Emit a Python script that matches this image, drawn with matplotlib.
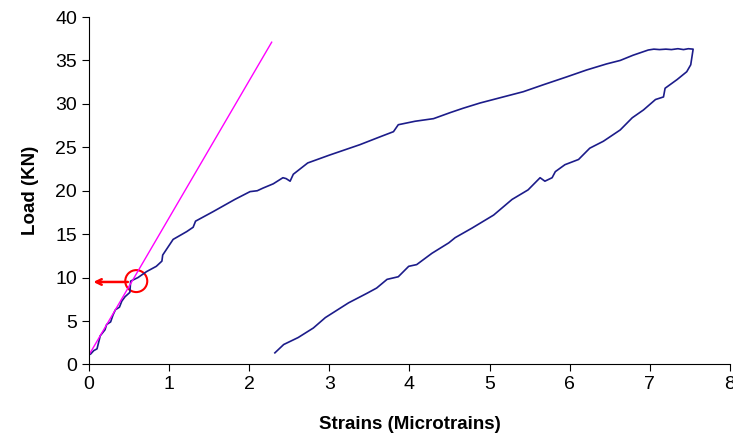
import matplotlib
matplotlib.use("Agg")
import matplotlib.pyplot as plt
from matplotlib.patches import Ellipse

plt.rcParams['font.family'] = ['Liberation Sans', 'DejaVu Sans']

# loading branch (strain, load)
load_x = [0.02, 0.06, 0.1, 0.13, 0.14, 0.2, 0.22, 0.27, 0.3, 0.33, 0.38, 0.41, 0.45,
          0.51, 0.52, 0.61, 0.72, 0.84, 0.91, 0.92, 1.05, 1.22, 1.3, 1.33, 1.55,
          1.82, 2.01, 2.1, 2.17, 2.3, 2.42, 2.46, 2.51, 2.55, 2.73, 3.0, 3.38,
          3.63, 3.8, 3.86, 4.07, 4.3, 4.51, 4.67, 4.88, 5.17, 5.42, 5.67, 5.96,
          6.21, 6.46, 6.63, 6.79, 6.98, 7.05, 7.12, 7.2, 7.27, 7.35, 7.42, 7.48, 7.54]
load_y = [1.2, 1.6, 1.8, 2.9, 3.3, 4.0, 4.6, 4.9, 5.7, 6.3, 6.6, 7.3, 7.8,
          8.3, 9.6, 10.0, 10.7, 11.3, 11.9, 12.6, 14.4, 15.3, 15.8, 16.5, 17.6,
          19.0, 19.9, 20.0, 20.3, 20.8, 21.5, 21.4, 21.1, 21.9, 23.2, 24.1, 25.3,
          26.2, 26.8, 27.6, 28.0, 28.3, 29.0, 29.5, 30.1, 30.8, 31.4, 32.2, 33.1,
          33.9, 34.6, 35.0, 35.6, 36.2, 36.3, 36.25, 36.3, 36.25, 36.35, 36.25, 36.35, 36.3]

# unloading branch
unload_x = [7.54, 7.51, 7.46, 7.34, 7.19, 7.17, 7.07, 6.92, 6.78, 6.63, 6.42, 6.25,
            6.11, 5.94, 5.82, 5.78, 5.69, 5.63, 5.48, 5.28, 5.05, 4.78, 4.57, 4.49,
            4.28, 4.09, 3.99, 3.86, 3.72, 3.59, 3.47, 3.24, 2.95, 2.8, 2.61, 2.43,
            2.32]
unload_y = [36.3, 34.5, 33.7, 32.8, 31.8, 30.8, 30.5, 29.3, 28.4, 27.0, 25.7, 24.9,
            23.6, 23.0, 22.2, 21.5, 21.1, 21.5, 20.1, 19.0, 17.2, 15.7, 14.6, 14.0,
            12.8, 11.5, 11.3, 10.1, 9.8, 8.8, 8.2, 7.1, 5.4, 4.2, 3.1, 2.3,
            1.34]

# initial stiffness line
fit_x = [0.0, 2.28]
fit_y = [1.1, 37.1]

yield_pt = (0.59, 9.6)

fig = plt.figure(figsize=(7.33, 4.36), dpi=100)
ax = fig.add_axes([0.1214, 0.164, 0.8745, 0.797])

ax.plot(load_x + unload_x, load_y + unload_y, color='#1c1c8a', lw=1.2)
ax.plot(fit_x, fit_y, color='#ff00ff', lw=1.0)

# red circle and arrow
ax.add_patch(Ellipse(yield_pt, 22 / 80.1, 22 / 8.7, fill=False, color='red', lw=1.5))
ax.annotate('', xy=(0.02, 9.5), xytext=(0.52, 9.5),
            arrowprops=dict(arrowstyle='->', color='red', lw=1.8))

ax.set_xlim(0, 8)
ax.set_ylim(0, 40)
ax.set_xticks(range(0, 9))
ax.set_yticks(range(0, 41, 5))
ax.spines['top'].set_visible(False)
ax.spines['right'].set_visible(False)
ax.tick_params(direction='out', labelsize=14, length=5)
ax.set_xlabel('Strains (Microtrains)', fontsize=13.5, fontweight='bold', labelpad=16)
ax.set_ylabel('Load (KN)', fontsize=13.5, fontweight='bold', labelpad=12)

fig.savefig('out.png', dpi=100)
